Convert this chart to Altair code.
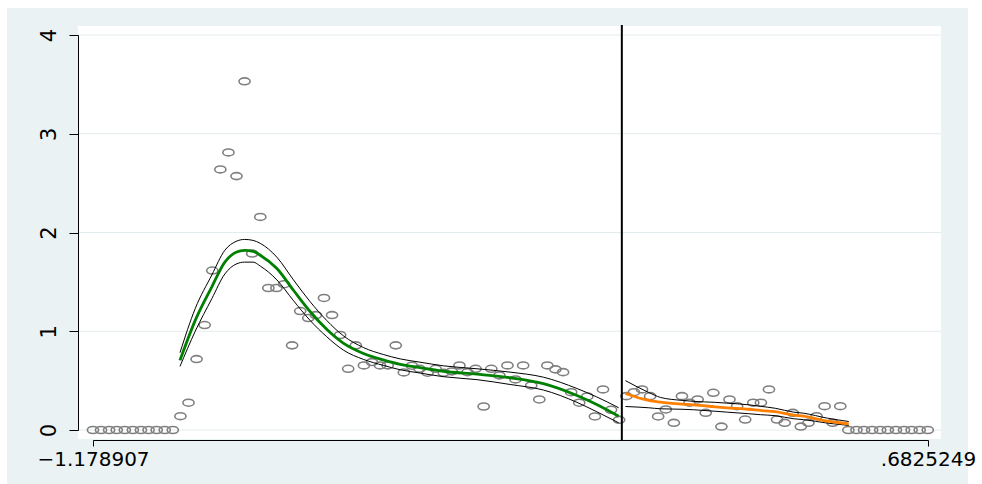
import altair as alt
import pandas as pd

# ---------------- data ----------------
left_x = [-1.179, -1.161, -1.143, -1.126, -1.108, -1.090, -1.072, -1.055, -1.037, -1.019,
          -1.001, -0.984, -0.966, -0.948, -0.930, -0.913, -0.895, -0.877, -0.859, -0.841,
          -0.824, -0.806, -0.788, -0.770, -0.753, -0.735, -0.717, -0.699, -0.682, -0.664,
          -0.646, -0.628, -0.610, -0.593, -0.575, -0.557, -0.539, -0.522, -0.504, -0.486,
          -0.468, -0.451, -0.433, -0.415, -0.397, -0.379, -0.362, -0.344, -0.326, -0.308,
          -0.291, -0.273, -0.255, -0.237, -0.220, -0.202, -0.184, -0.166, -0.148, -0.131,
          -0.113, -0.095, -0.077, -0.060, -0.042, -0.024, -0.006]
left_y = [0, 0, 0, 0, 0, 0, 0, 0, 0, 0,
          0, 0.14, 0.276, 0.718, 1.063, 1.615, 2.639, 2.811, 2.571, 3.531,
          1.787, 2.158, 1.438, 1.438, 1.476, 0.857, 1.205, 1.134, 1.164, 1.337,
          1.164, 0.962, 0.62, 0.857, 0.654, 0.688, 0.654, 0.654, 0.857, 0.583,
          0.651, 0.62, 0.58, 0.62, 0.58, 0.593, 0.654, 0.586, 0.62, 0.238,
          0.62, 0.553, 0.654, 0.512, 0.654, 0.451, 0.309, 0.654, 0.614, 0.586,
          0.383, 0.276, 0.34, 0.137, 0.411, 0.205, 0.103]
right_x = [0.010, 0.027, 0.045, 0.063, 0.081, 0.098, 0.116, 0.134, 0.151, 0.169,
           0.187, 0.204, 0.222, 0.240, 0.257, 0.275, 0.293, 0.310, 0.328, 0.346,
           0.363, 0.381, 0.399, 0.416, 0.434, 0.452, 0.470, 0.487, 0.505, 0.523,
           0.540, 0.558, 0.576, 0.593, 0.611, 0.629, 0.646, 0.664, 0.682]
right_y = [0.343, 0.383, 0.411, 0.343, 0.137, 0.208, 0.073, 0.343, 0.276, 0.309,
           0.174, 0.377, 0.035, 0.309, 0.241, 0.106, 0.276, 0.276, 0.411, 0.106,
           0.073, 0.174, 0.035, 0.073, 0.14, 0.241, 0.073, 0.241, 0, 0,
           0, 0, 0, 0, 0, 0, 0, 0, 0]

fitL_x = [-0.985, -0.951, -0.914, -0.885, -0.860, -0.841, -0.822, -0.806, -0.769, -0.732,
          -0.695, -0.658, -0.621, -0.576, -0.532, -0.494, -0.450, -0.398, -0.323, -0.249,
          -0.175, -0.100, -0.056, -0.007]
fitL_y = [0.705, 1.11, 1.45, 1.70, 1.80, 1.82, 1.81, 1.77, 1.635, 1.415,
          1.20, 1.02, 0.88, 0.775, 0.71, 0.665, 0.632, 0.595, 0.565, 0.529,
          0.47, 0.35, 0.259, 0.14]
fitL_hi = [0.783, 1.23, 1.57, 1.82, 1.91, 1.93, 1.92, 1.89, 1.75, 1.52,
           1.30, 1.11, 0.955, 0.835, 0.765, 0.72, 0.687, 0.65, 0.62, 0.586,
           0.535, 0.42, 0.335, 0.225]
fitL_lo = [0.644, 1.0, 1.33, 1.58, 1.68, 1.70, 1.70, 1.66, 1.52, 1.31,
           1.11, 0.945, 0.81, 0.715, 0.655, 0.61, 0.577, 0.54, 0.51, 0.461,
           0.405, 0.28, 0.185, 0.073]

fitR_x = [0.008, 0.060, 0.086, 0.134, 0.160, 0.208, 0.234, 0.283, 0.309, 0.342,
          0.383, 0.405, 0.458, 0.506]
fitR_y = [0.37, 0.30, 0.282, 0.262, 0.255, 0.235, 0.225, 0.21, 0.198, 0.185,
          0.15, 0.14, 0.089, 0.063]
fitR_hi = [0.50, 0.38, 0.33, 0.30, 0.29, 0.28, 0.272, 0.255, 0.24, 0.22,
           0.181, 0.17, 0.12, 0.086]
fitR_lo = [0.238, 0.225, 0.215, 0.21, 0.205, 0.19, 0.181, 0.165, 0.155, 0.145,
           0.114, 0.105, 0.07, 0.046]

y_ticks = [0, 1, 2, 3, 4]
x_ticks = [-1.178907, 0.6825249]
x_tick_labels = ["\u22121.178907", ".6825249"]
cutoff = [0.0]

# ---------------- styling ----------------
W, H = 835, 395
BG = "#EAF2F3"
GRID = "#E3EBEE"
FONT = "DejaVu Sans"

xs = alt.Scale(domain=[x_ticks[0], x_ticks[1]], nice=False, zero=False)
ys = alt.Scale(domain=[0, 4], nice=False, zero=False)

label_expr = "datum.value < 0 ? '%s' : '%s'" % (x_tick_labels[0], x_tick_labels[1])
x_axis = alt.Axis(values=x_ticks, labelExpr=label_expr, offset=10, tickSize=6,
                  grid=False, domainColor="black", tickColor="black", domainWidth=1,
                  labelFont=FONT, labelFontSize=20, labelColor="black", labelPadding=3,
                  labelFlush=False, labelOverlap=False, title="", zindex=1)
y_axis = alt.Axis(values=y_ticks, offset=15, tickSize=9, labelAngle=270,
                  labelAlign="center", labelBaseline="alphabetic", labelPadding=14,
                  grid=False, domainColor="black", tickColor="black", domainWidth=1,
                  labelFont=FONT, labelFontSize=21, labelColor="black", title="", zindex=1)

X = alt.X("x:Q", scale=xs, axis=x_axis)
Y = alt.Y("y:Q", scale=ys, axis=y_axis)

one = pd.DataFrame({"d": [0]})

outer = alt.Chart(one).mark_rect(fill=BG).encode(
    x=alt.value(-86), x2=alt.value(875), y=alt.value(-27), y2=alt.value(449))
inner = alt.Chart(one).mark_rect(fill="white").encode(
    x=alt.value(-15), x2=alt.value(848), y=alt.value(-9), y2=alt.value(404))
grid = alt.Chart(pd.DataFrame({"y": y_ticks})).mark_rule(color=GRID, strokeWidth=1).encode(
    y=Y, x=alt.value(-15), x2=alt.value(848))

ELLIPSE = ("M-1,0 C-1,-0.342 -0.552,-0.62 0,-0.62 C0.552,-0.62 1,-0.342 1,0 "
           "C1,0.342 0.552,0.62 0,0.62 C-0.552,0.62 -1,0.342 -1,0 Z")
pts = pd.DataFrame({"x": left_x + right_x, "y": left_y + right_y})
points = alt.Chart(pts).mark_point(shape=ELLIPSE, size=125, filled=False, color="#7F7F7F",
                                   strokeWidth=1.6, opacity=1).encode(x=X, y=Y)

ci_rows = []
for name, xx, yy in [("Lhi", fitL_x, fitL_hi), ("Llo", fitL_x, fitL_lo),
                     ("Rhi", fitR_x, fitR_hi), ("Rlo", fitR_x, fitR_lo)]:
    for a, b in zip(xx, yy):
        ci_rows.append({"g": name, "x": a, "y": b})
ci = alt.Chart(pd.DataFrame(ci_rows)).mark_line(
    color="black", strokeWidth=1, interpolate="monotone").encode(x=X, y=Y, detail="g:N")

fitL = alt.Chart(pd.DataFrame({"x": fitL_x, "y": fitL_y})).mark_line(
    color="#008000", strokeWidth=2.8, interpolate="monotone").encode(x=X, y=Y)
fitR = alt.Chart(pd.DataFrame({"x": fitR_x, "y": fitR_y})).mark_line(
    color="#FF8000", strokeWidth=2.8, interpolate="monotone").encode(x=X, y=Y)

cut = alt.Chart(pd.DataFrame({"x": cutoff})).mark_rule(color="black", strokeWidth=2).encode(
    x=X, y=alt.value(-10), y2=alt.value(405))

chart = alt.layer(outer, inner, grid, points, ci, fitL, fitR, cut).properties(
    width=W, height=H,
    autosize=alt.AutoSizeParams(type="none"),
    padding={"left": 93, "top": 35, "right": 54, "bottom": 54},
    background="white",
).configure_view(strokeWidth=0)

chart.save("out.html", embed_options={"renderer": "svg", "actions": False})
